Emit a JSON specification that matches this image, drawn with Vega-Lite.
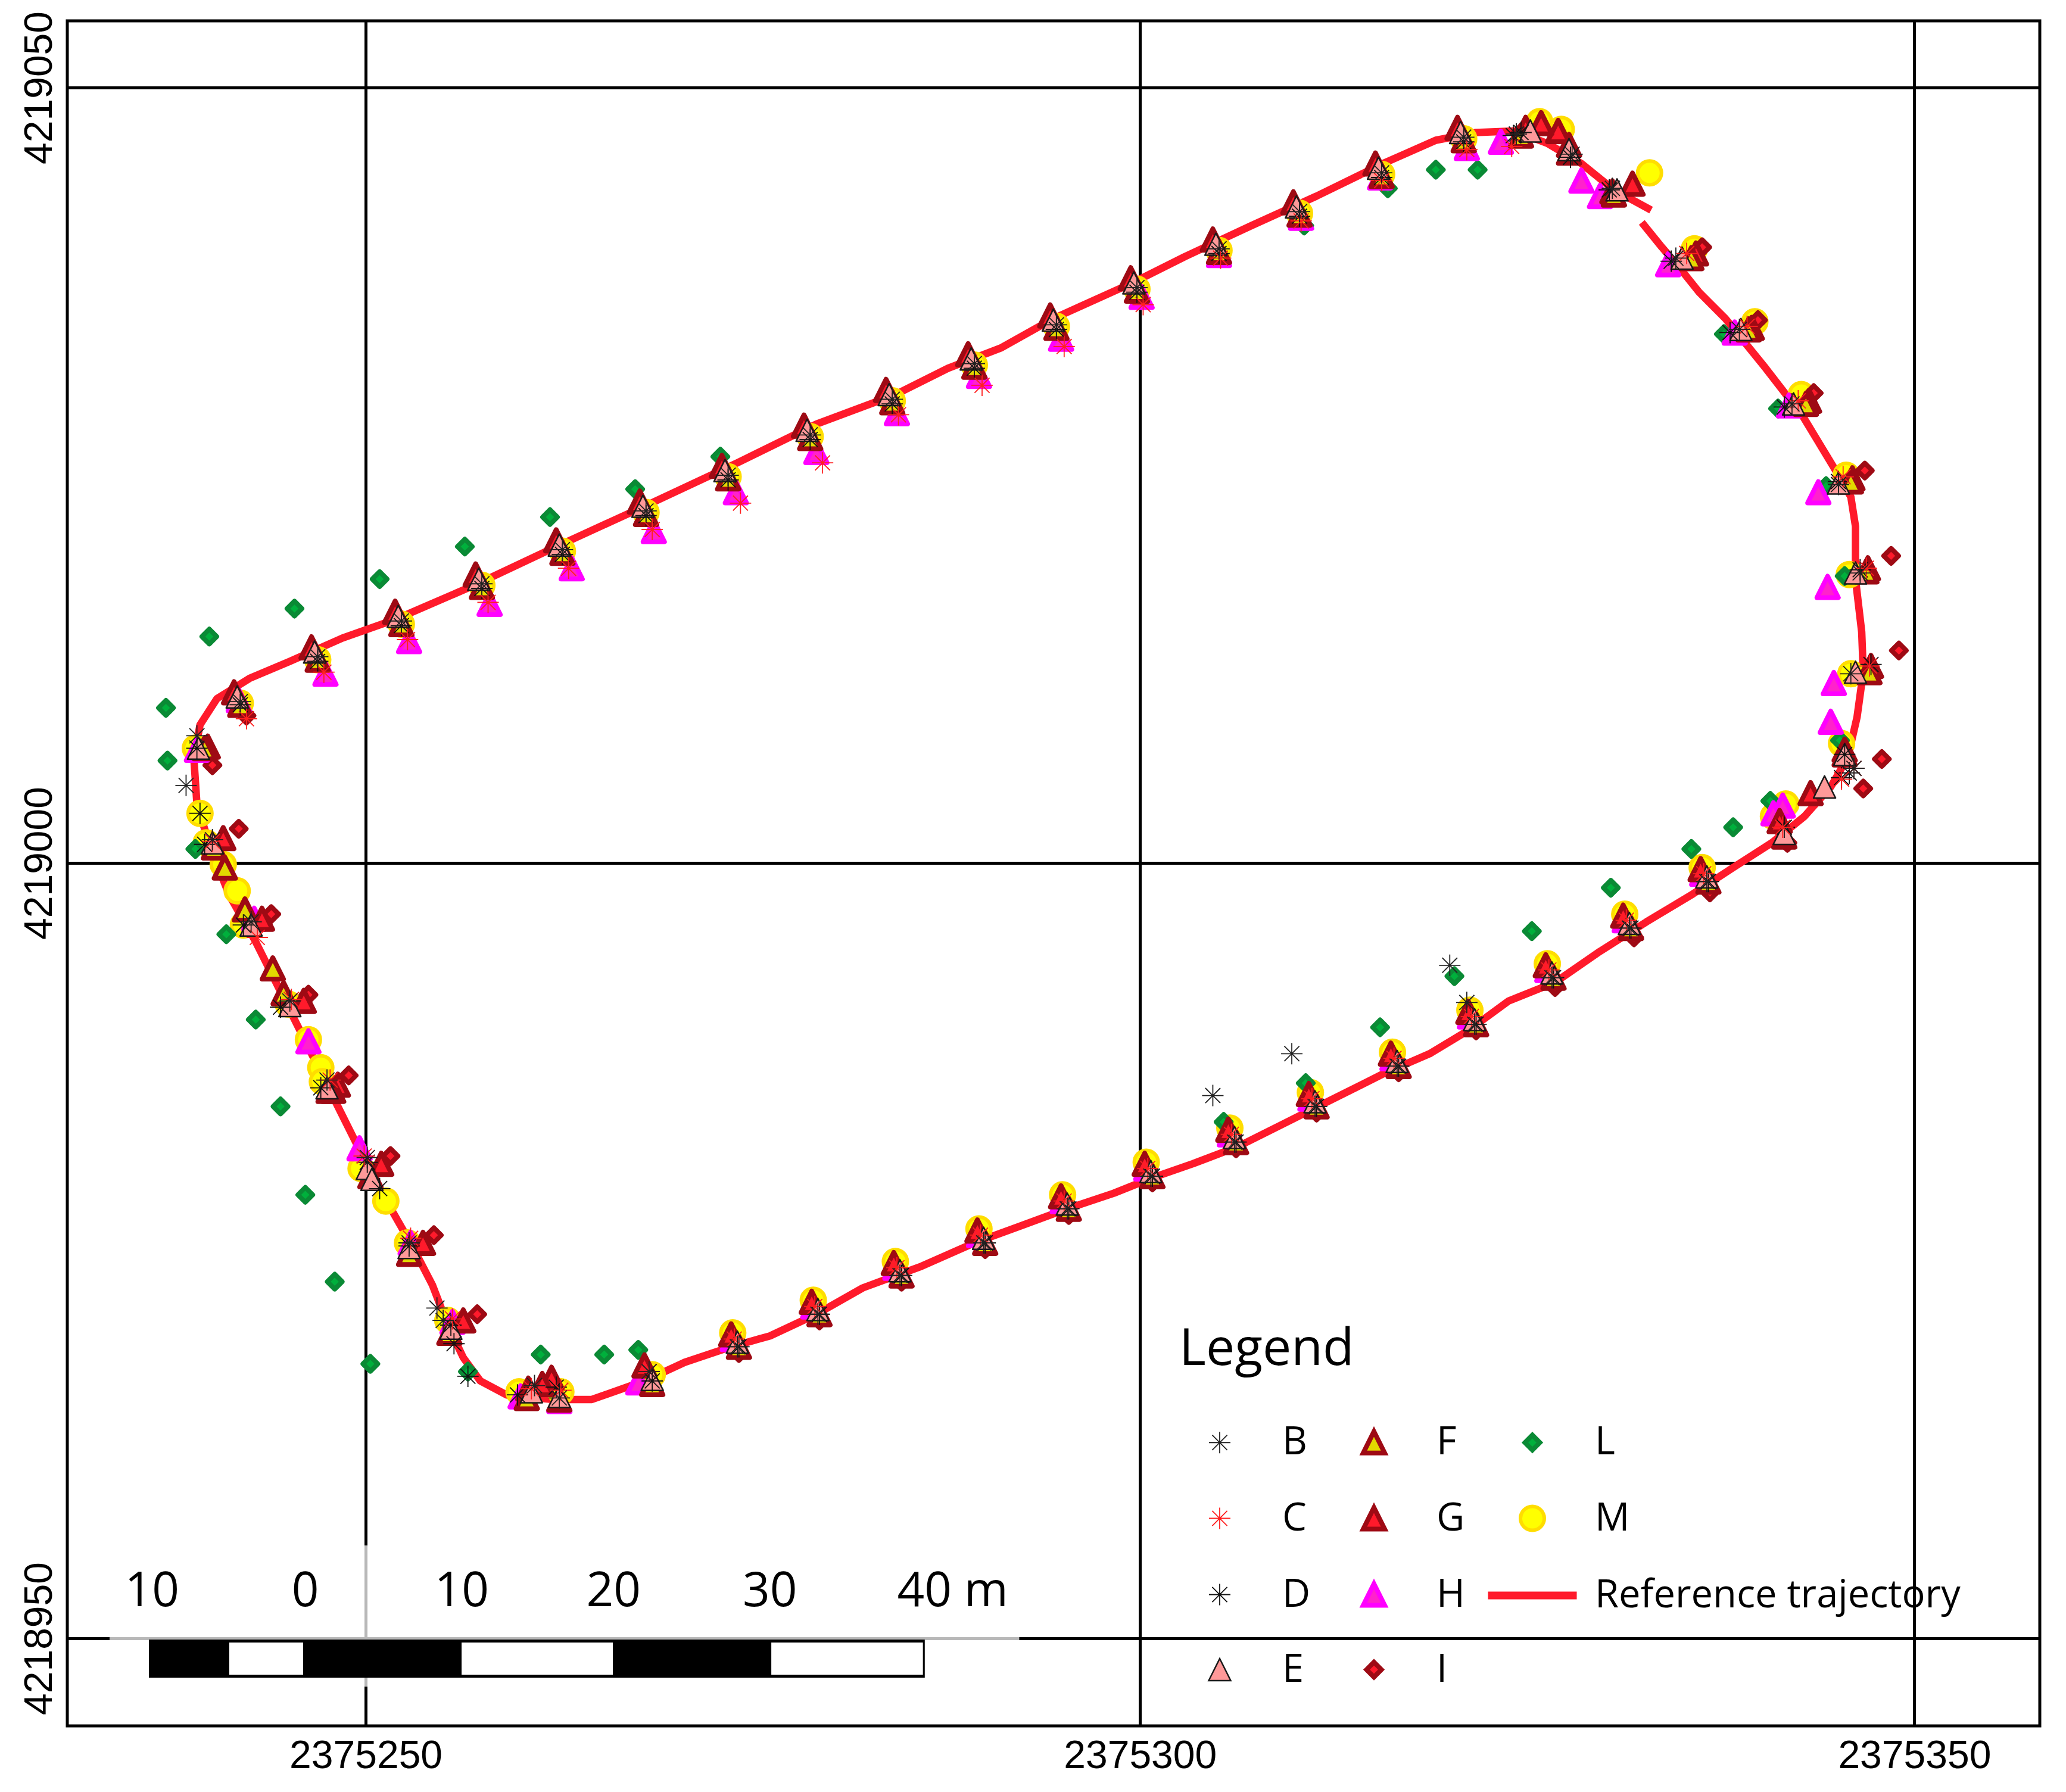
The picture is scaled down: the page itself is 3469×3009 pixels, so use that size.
{
"$schema":"https://vega.github.io/schema/vega-lite/v6.json",
"autosize":{"type":"none"},
"padding":{"left":113,"top":35,"right":44,"bottom":111},
"width":3312,"height":2863,"background":"white",
"config":{"view":{"stroke":"black","strokeWidth":5},
"legend":{"padding":0,"gridAlign":"each","columnPadding":12,"rowPadding":59,"symbolOffset":34,"labelOffset":71,"labelFont":"Open Sans","labelFontSize":65,"labelColor":"black","labelLimit":1000,"titleFont":"Open Sans","titleFontSize":86,"titleFontWeight":"normal","titleColor":"black","titlePadding":79,"titleLimit":1000,"symbolOpacity":1,"symbolLimit":20}},
"encoding":{
"x":{"field":"x","type":"quantitative","title":null,"scale":{"domain":[2375230.73,2375358.1],"zero":false,"nice":false},"axis":{"values":[2375250,2375300,2375350],"format":"d","ticks":false,"domain":false,"gridColor":"black","gridWidth":5,"gridOpacity":1,"labelFont":"Liberation Sans","labelFontSize":66,"labelColor":"black","labelPadding":18,"labelOverlap":false,"labelLimit":1000}},
"y":{"field":"y","type":"quantitative","title":null,"scale":{"domain":[4218944.355,4219054.3],"zero":false,"nice":false},"axis":{"values":[4218950,4219000,4219050],"format":"d","ticks":false,"domain":false,"gridColor":"black","gridWidth":5,"gridOpacity":1,"labelFont":"Liberation Sans","labelFontSize":66,"labelColor":"black","labelAngle":-90,"labelAlign":"center","labelBaseline":"bottom","labelPadding":13,"labelOverlap":false,"labelLimit":1000}}
},
"layer":[
{"data":{"values":[
{"i":1,"x":2375332.4,"y":4219041.3},{"i":2,"x":2375333.7,"y":4219039.7},{"i":3,"x":2375334.9,"y":4219038.3},{"i":4,"x":2375336.1,"y":4219036.8},{"i":5,"x":2375337.8,"y":4219035.1},{"i":6,"x":2375340.4,"y":4219031.9},{"i":7,"x":2375342.8,"y":4219028.8},{"i":8,"x":2375344.8,"y":4219025.5},{"i":9,"x":2375345.9,"y":4219023.6},{"i":10,"x":2375346.2,"y":4219021.7},{"i":11,"x":2375346.2,"y":4219018.3},{"i":12,"x":2375346.6,"y":4219014.9},{"i":13,"x":2375346.7,"y":4219012.3},{"i":14,"x":2375346.3,"y":4219009.4},{"i":15,"x":2375345.7,"y":4219006.8},{"i":16,"x":2375344.6,"y":4219004.9},{"i":17,"x":2375342.9,"y":4219003.0},{"i":18,"x":2375340.8,"y":4219001.3},{"i":19,"x":2375338.3,"y":4218999.7},{"i":20,"x":2375335.7,"y":4218998.0},{"i":21,"x":2375332.7,"y":4218996.2},{"i":22,"x":2375329.7,"y":4218994.3},{"i":23,"x":2375326.8,"y":4218992.3},{"i":24,"x":2375323.8,"y":4218991.1},{"i":25,"x":2375321.2,"y":4218989.2},{"i":26,"x":2375318.7,"y":4218987.7},{"i":27,"x":2375315.7,"y":4218986.4},{"i":28,"x":2375312.3,"y":4218984.7},{"i":29,"x":2375309.3,"y":4218983.2},{"i":30,"x":2375306.3,"y":4218981.7},{"i":31,"x":2375303.4,"y":4218980.6},{"i":32,"x":2375300.8,"y":4218979.7},{"i":33,"x":2375298.3,"y":4218978.7},{"i":34,"x":2375295.3,"y":4218977.7},{"i":35,"x":2375292.3,"y":4218976.6},{"i":36,"x":2375289.3,"y":4218975.5},{"i":37,"x":2375285.9,"y":4218974.0},{"i":38,"x":2375282.1,"y":4218972.6},{"i":39,"x":2375279.1,"y":4218970.9},{"i":40,"x":2375276.1,"y":4218969.5},{"i":41,"x":2375273.6,"y":4218968.8},{"i":42,"x":2375270.6,"y":4218967.8},{"i":43,"x":2375268.0,"y":4218966.6},{"i":44,"x":2375264.6,"y":4218965.4},{"i":45,"x":2375262.1,"y":4218965.4},{"i":46,"x":2375259.1,"y":4218965.7},{"i":47,"x":2375257.4,"y":4218966.6},{"i":48,"x":2375256.3,"y":4218968.1},{"i":49,"x":2375255.3,"y":4218970.2},{"i":50,"x":2375254.3,"y":4218972.8},{"i":51,"x":2375253.0,"y":4218975.3},{"i":52,"x":2375251.4,"y":4218978.1},{"i":53,"x":2375249.7,"y":4218981.3},{"i":54,"x":2375248.0,"y":4218984.7},{"i":55,"x":2375246.3,"y":4218988.1},{"i":56,"x":2375244.6,"y":4218991.5},{"i":57,"x":2375242.9,"y":4218994.9},{"i":58,"x":2375241.2,"y":4218997.9},{"i":59,"x":2375240.0,"y":4219000.9},{"i":60,"x":2375239.1,"y":4219003.8},{"i":61,"x":2375238.9,"y":4219006.8},{"i":62,"x":2375239.3,"y":4219008.9},{"i":63,"x":2375240.4,"y":4219010.6},{"i":64,"x":2375242.5,"y":4219011.9},{"i":65,"x":2375245.1,"y":4219013.0},{"i":66,"x":2375248.5,"y":4219014.5},{"i":67,"x":2375251.9,"y":4219015.7},{"i":68,"x":2375257.0,"y":4219017.9},{"i":69,"x":2375262.1,"y":4219020.3},{"i":70,"x":2375268.0,"y":4219023.0},{"i":71,"x":2375274.0,"y":4219025.8},{"i":72,"x":2375279.1,"y":4219028.3},{"i":73,"x":2375284.2,"y":4219030.2},{"i":74,"x":2375287.6,"y":4219031.9},{"i":75,"x":2375291.0,"y":4219033.2},{"i":76,"x":2375294.4,"y":4219035.1},{"i":77,"x":2375299.5,"y":4219037.4},{"i":78,"x":2375302.9,"y":4219039.1},{"i":79,"x":2375307.2,"y":4219041.1},{"i":80,"x":2375311.4,"y":4219043.0},{"i":81,"x":2375315.7,"y":4219045.1},{"i":82,"x":2375319.1,"y":4219046.6},{"i":83,"x":2375321.7,"y":4219047.1},{"i":84,"x":2375324.2,"y":4219047.2},{"i":85,"x":2375326.3,"y":4219046.4},{"i":86,"x":2375328.5,"y":4219045.1},{"i":87,"x":2375330.6,"y":4219043.4},{"i":88,"x":2375333.0,"y":4219042.1}
]},
"mark":{"type":"line","color":"#ff1a2b","strokeWidth":12.5,"strokeJoin":"round","strokeCap":"butt"},
"encoding":{"order":{"field":"i","type":"quantitative"}}},
{"data":{"values":[
{"s":"M","x":2375241.9,"y":4219010.3},{"s":"M","x":2375246.9,"y":4219013.1},{"s":"M","x":2375252.3,"y":4219015.4},{"s":"M","x":2375257.5,"y":4219017.9},{"s":"M","x":2375262.7,"y":4219020.1},{"s":"M","x":2375268.1,"y":4219022.6},{"s":"M","x":2375273.4,"y":4219024.9},{"s":"M","x":2375278.7,"y":4219027.5},{"s":"M","x":2375284.0,"y":4219029.8},{"s":"M","x":2375289.3,"y":4219032.1},{"s":"M","x":2375294.6,"y":4219034.6},{"s":"M","x":2375299.8,"y":4219037.0},{"s":"M","x":2375305.1,"y":4219039.5},{"s":"M","x":2375310.3,"y":4219041.9},{"s":"M","x":2375315.6,"y":4219044.4},{"s":"M","x":2375320.9,"y":4219046.7},
{"s":"M","x":2375336.3,"y":4218999.7},{"s":"M","x":2375331.3,"y":4218996.7},{"s":"M","x":2375326.3,"y":4218993.5},{"s":"M","x":2375321.3,"y":4218990.5},{"s":"M","x":2375316.3,"y":4218987.8},{"s":"M","x":2375311.0,"y":4218985.2},{"s":"M","x":2375305.8,"y":4218982.9},{"s":"M","x":2375300.4,"y":4218980.7},{"s":"M","x":2375295.0,"y":4218978.6},{"s":"M","x":2375289.6,"y":4218976.4},{"s":"M","x":2375284.2,"y":4218974.3},{"s":"M","x":2375278.9,"y":4218971.8},{"s":"M","x":2375273.7,"y":4218969.7},{"s":"M","x":2375268.5,"y":4218967.0},
{"s":"M","x":2375341.7,"y":4219003.8},{"s":"M","x":2375340.9,"y":4219003.0},{"s":"M","x":2375345.3,"y":4219007.7},{"s":"M","x":2375345.9,"y":4219012.2},{"s":"M","x":2375345.8,"y":4219018.6},{"s":"M","x":2375345.6,"y":4219025.0},{"s":"M","x":2375342.7,"y":4219030.2},{"s":"M","x":2375339.7,"y":4219034.9},{"s":"M","x":2375335.8,"y":4219039.6},{"s":"M","x":2375332.9,"y":4219044.5},{"s":"M","x":2375327.2,"y":4219047.3},{"s":"M","x":2375325.8,"y":4219047.8},
{"s":"M","x":2375239.0,"y":4219007.4},{"s":"M","x":2375239.3,"y":4219003.2},{"s":"M","x":2375239.7,"y":4219001.3},{"s":"M","x":2375240.8,"y":4218999.9},{"s":"M","x":2375241.7,"y":4218998.2},{"s":"M","x":2375242.1,"y":4218996.0},{"s":"M","x":2375245.0,"y":4218990.9},{"s":"M","x":2375246.3,"y":4218988.6},{"s":"M","x":2375247.1,"y":4218986.8},{"s":"M","x":2375247.2,"y":4218985.9},{"s":"M","x":2375249.7,"y":4218980.3},{"s":"M","x":2375251.3,"y":4218978.2},{"s":"M","x":2375252.7,"y":4218975.5},{"s":"M","x":2375255.3,"y":4218970.5},{"s":"M","x":2375259.9,"y":4218965.9},{"s":"M","x":2375262.6,"y":4218965.9},
{"s":"L","x":2375272.9,"y":4219026.2},{"s":"L","x":2375267.4,"y":4219024.1},{"s":"L","x":2375261.9,"y":4219022.3},{"s":"L","x":2375256.4,"y":4219020.4},{"s":"L","x":2375250.9,"y":4219018.3},{"s":"L","x":2375245.4,"y":4219016.4},{"s":"L","x":2375239.9,"y":4219014.6},{"s":"L","x":2375237.1,"y":4219010.0},{"s":"L","x":2375237.2,"y":4219006.6},{"s":"L","x":2375316.0,"y":4219043.5},{"s":"L","x":2375319.1,"y":4219044.7},{"s":"L","x":2375321.8,"y":4219044.7},{"s":"L","x":2375310.6,"y":4219041.1},
{"s":"L","x":2375337.7,"y":4219034.1},{"s":"L","x":2375341.2,"y":4219029.3},{"s":"L","x":2375344.3,"y":4219024.3},{"s":"L","x":2375345.5,"y":4219018.5},{"s":"L","x":2375345.2,"y":4219007.9},{"s":"L","x":2375340.7,"y":4219004.0},{"s":"L","x":2375338.3,"y":4219002.3},{"s":"L","x":2375335.6,"y":4219000.9},{"s":"L","x":2375330.4,"y":4218998.4},{"s":"L","x":2375325.3,"y":4218995.6},{"s":"L","x":2375320.3,"y":4218992.7},{"s":"L","x":2375315.5,"y":4218989.4},{"s":"L","x":2375310.7,"y":4218985.8},{"s":"L","x":2375305.4,"y":4218983.3},
{"s":"L","x":2375239.0,"y":4219000.9},{"s":"L","x":2375241.0,"y":4218995.4},{"s":"L","x":2375242.9,"y":4218989.9},{"s":"L","x":2375244.5,"y":4218984.3},{"s":"L","x":2375246.1,"y":4218978.6},{"s":"L","x":2375248.0,"y":4218973.0},{"s":"L","x":2375250.3,"y":4218967.7},{"s":"L","x":2375256.6,"y":4218967.2},{"s":"L","x":2375261.3,"y":4218968.3},{"s":"L","x":2375265.4,"y":4218968.3},{"s":"L","x":2375267.6,"y":4218968.6},
{"s":"I","x":2375242.3,"y":4219009.5},{"s":"I","x":2375336.8,"y":4218998.1},{"s":"I","x":2375331.9,"y":4218995.2},{"s":"I","x":2375326.8,"y":4218992.0},{"s":"I","x":2375321.7,"y":4218989.2},{"s":"I","x":2375316.7,"y":4218986.5},{"s":"I","x":2375311.4,"y":4218983.9},{"s":"I","x":2375306.2,"y":4218981.6},{"s":"I","x":2375300.8,"y":4218979.4},{"s":"I","x":2375295.4,"y":4218977.3},{"s":"I","x":2375290.0,"y":4218975.1},{"s":"I","x":2375284.6,"y":4218973.0},{"s":"I","x":2375279.3,"y":4218970.5},{"s":"I","x":2375274.1,"y":4218968.4},{"s":"I","x":2375268.5,"y":4218966.2},
{"s":"I","x":2375341.8,"y":4219001.3},{"s":"I","x":2375346.7,"y":4219004.8},{"s":"I","x":2375347.9,"y":4219006.7},{"s":"I","x":2375349.0,"y":4219013.7},{"s":"I","x":2375348.5,"y":4219019.8},{"s":"I","x":2375346.8,"y":4219025.3},{"s":"I","x":2375343.5,"y":4219030.3},{"s":"I","x":2375339.9,"y":4219035.0},{"s":"I","x":2375336.3,"y":4219039.7},{"s":"I","x":2375324.5,"y":4219047.0},{"s":"I","x":2375240.1,"y":4219006.3},{"s":"I","x":2375241.8,"y":4219002.2},{"s":"I","x":2375243.9,"y":4218996.7},{"s":"I","x":2375246.3,"y":4218991.5},{"s":"I","x":2375248.9,"y":4218986.3},{"s":"I","x":2375251.6,"y":4218981.1},{"s":"I","x":2375254.4,"y":4218976.0},{"s":"I","x":2375257.2,"y":4218970.9},
{"s":"H","x":2375241.8,"y":4219010.5},{"s":"H","x":2375247.4,"y":4219012.2},{"s":"H","x":2375252.8,"y":4219014.3},{"s":"H","x":2375258.0,"y":4219016.7},{"s":"H","x":2375263.3,"y":4219019.0},{"s":"H","x":2375268.6,"y":4219021.4},{"s":"H","x":2375273.9,"y":4219023.9},{"s":"H","x":2375279.1,"y":4219026.5},{"s":"H","x":2375284.3,"y":4219029.0},{"s":"H","x":2375289.6,"y":4219031.4},{"s":"H","x":2375294.9,"y":4219033.8},{"s":"H","x":2375300.1,"y":4219036.5},{"s":"H","x":2375305.1,"y":4219039.2},{"s":"H","x":2375310.4,"y":4219041.6},{"s":"H","x":2375315.5,"y":4219044.2},{"s":"H","x":2375321.1,"y":4219046.1},
{"s":"H","x":2375336.3,"y":4218999.3},{"s":"H","x":2375331.3,"y":4218996.3},{"s":"H","x":2375326.3,"y":4218993.1},{"s":"H","x":2375321.3,"y":4218990.1},{"s":"H","x":2375316.3,"y":4218987.4},{"s":"H","x":2375311.0,"y":4218984.8},{"s":"H","x":2375305.8,"y":4218982.5},{"s":"H","x":2375300.4,"y":4218980.3},{"s":"H","x":2375295.0,"y":4218978.2},{"s":"H","x":2375289.6,"y":4218976.0},{"s":"H","x":2375284.2,"y":4218973.9},{"s":"H","x":2375278.9,"y":4218971.4},{"s":"H","x":2375273.7,"y":4218969.3},{"s":"H","x":2375267.6,"y":4218966.5},
{"s":"H","x":2375341.5,"y":4219003.7},{"s":"H","x":2375340.9,"y":4219003.2},{"s":"H","x":2375344.6,"y":4219009.1},{"s":"H","x":2375344.8,"y":4219011.6},{"s":"H","x":2375344.4,"y":4219017.8},{"s":"H","x":2375343.8,"y":4219023.9},{"s":"H","x":2375341.9,"y":4219029.5},{"s":"H","x":2375338.4,"y":4219034.2},{"s":"H","x":2375334.1,"y":4219038.6},{"s":"H","x":2375329.7,"y":4219043.0},{"s":"H","x":2375328.5,"y":4219044.0},{"s":"H","x":2375323.3,"y":4219046.5},{"s":"H","x":2375239.1,"y":4219007.3},{"s":"H","x":2375242.8,"y":4218996.4},{"s":"H","x":2375246.3,"y":4218988.5},{"s":"H","x":2375249.6,"y":4218981.6},{"s":"H","x":2375252.9,"y":4218975.5},{"s":"H","x":2375255.6,"y":4218970.4},{"s":"H","x":2375260.0,"y":4218965.6},{"s":"H","x":2375262.5,"y":4218965.3},
{"s":"G","x":2375241.5,"y":4219011.0},{"s":"G","x":2375246.5,"y":4219013.9},{"s":"G","x":2375251.9,"y":4219016.2},{"s":"G","x":2375257.1,"y":4219018.6},{"s":"G","x":2375262.3,"y":4219020.8},{"s":"G","x":2375267.7,"y":4219023.3},{"s":"G","x":2375273.0,"y":4219025.6},{"s":"G","x":2375278.3,"y":4219028.2},{"s":"G","x":2375283.6,"y":4219030.5},{"s":"G","x":2375288.9,"y":4219032.8},{"s":"G","x":2375294.2,"y":4219035.3},{"s":"G","x":2375299.4,"y":4219037.7},{"s":"G","x":2375304.7,"y":4219040.2},{"s":"G","x":2375309.9,"y":4219042.6},{"s":"G","x":2375315.2,"y":4219045.1},{"s":"G","x":2375320.5,"y":4219047.4},
{"s":"G","x":2375336.2,"y":4218999.6},{"s":"G","x":2375331.2,"y":4218996.6},{"s":"G","x":2375326.2,"y":4218993.4},{"s":"G","x":2375321.2,"y":4218990.4},{"s":"G","x":2375316.2,"y":4218987.7},{"s":"G","x":2375310.9,"y":4218985.1},{"s":"G","x":2375305.7,"y":4218982.8},{"s":"G","x":2375300.3,"y":4218980.6},{"s":"G","x":2375294.9,"y":4218978.5},{"s":"G","x":2375289.5,"y":4218976.3},{"s":"G","x":2375284.1,"y":4218974.2},{"s":"G","x":2375278.8,"y":4218971.7},{"s":"G","x":2375273.6,"y":4218969.6},{"s":"G","x":2375268.0,"y":4218967.6},
{"s":"G","x":2375341.3,"y":4219002.7},{"s":"G","x":2375343.3,"y":4219004.5},{"s":"G","x":2375345.5,"y":4219007.3},{"s":"G","x":2375347.2,"y":4219012.7},{"s":"G","x":2375347.0,"y":4219019.0},{"s":"G","x":2375346.0,"y":4219024.8},{"s":"G","x":2375343.2,"y":4219029.8},{"s":"G","x":2375339.5,"y":4219034.5},{"s":"G","x":2375335.9,"y":4219039.3},{"s":"G","x":2375331.8,"y":4219043.8},{"s":"G","x":2375330.5,"y":4219043.3},{"s":"G","x":2375327.7,"y":4219046.3},{"s":"G","x":2375327.0,"y":4219047.2},{"s":"G","x":2375325.9,"y":4219047.7},{"s":"G","x":2375324.9,"y":4219047.4},
{"s":"G","x":2375239.8,"y":4219007.5},{"s":"G","x":2375240.8,"y":4219001.6},{"s":"G","x":2375243.3,"y":4218996.4},{"s":"G","x":2375246.0,"y":4218991.1},{"s":"G","x":2375248.2,"y":4218985.7},{"s":"G","x":2375247.9,"y":4218985.3},{"s":"G","x":2375251.0,"y":4218980.6},{"s":"G","x":2375253.7,"y":4218975.5},{"s":"G","x":2375256.3,"y":4218970.5},{"s":"G","x":2375260.5,"y":4218966.1},{"s":"G","x":2375262.0,"y":4218966.8},{"s":"G","x":2375261.4,"y":4218966.4},
{"s":"F","x":2375241.9,"y":4219010.2},{"s":"F","x":2375246.9,"y":4219013.1},{"s":"F","x":2375252.3,"y":4219015.4},{"s":"F","x":2375257.5,"y":4219017.8},{"s":"F","x":2375262.7,"y":4219020.0},{"s":"F","x":2375268.1,"y":4219022.5},{"s":"F","x":2375273.4,"y":4219024.8},{"s":"F","x":2375278.7,"y":4219027.4},{"s":"F","x":2375284.0,"y":4219029.7},{"s":"F","x":2375289.3,"y":4219032.0},{"s":"F","x":2375294.6,"y":4219034.5},{"s":"F","x":2375299.8,"y":4219036.9},{"s":"F","x":2375305.1,"y":4219039.4},{"s":"F","x":2375310.3,"y":4219041.8},{"s":"F","x":2375315.6,"y":4219044.3},{"s":"F","x":2375320.9,"y":4219046.6},
{"s":"F","x":2375336.7,"y":4218998.8},{"s":"F","x":2375331.7,"y":4218995.8},{"s":"F","x":2375326.7,"y":4218992.6},{"s":"F","x":2375321.7,"y":4218989.6},{"s":"F","x":2375316.7,"y":4218986.9},{"s":"F","x":2375311.4,"y":4218984.3},{"s":"F","x":2375306.2,"y":4218982.0},{"s":"F","x":2375300.8,"y":4218979.8},{"s":"F","x":2375295.4,"y":4218977.7},{"s":"F","x":2375290.0,"y":4218975.5},{"s":"F","x":2375284.6,"y":4218973.4},{"s":"F","x":2375279.3,"y":4218970.9},{"s":"F","x":2375274.1,"y":4218968.8},{"s":"F","x":2375268.5,"y":4218966.4},
{"s":"F","x":2375341.6,"y":4219001.7},{"s":"F","x":2375345.5,"y":4219007.0},{"s":"F","x":2375347.1,"y":4219012.3},{"s":"F","x":2375346.9,"y":4219018.8},{"s":"F","x":2375345.9,"y":4219024.6},{"s":"F","x":2375343.0,"y":4219029.6},{"s":"F","x":2375339.3,"y":4219034.4},{"s":"F","x":2375335.6,"y":4219039.0},{"s":"F","x":2375330.6,"y":4219043.1},{"s":"F","x":2375327.7,"y":4219045.8},{"s":"F","x":2375324.6,"y":4219046.9},
{"s":"F","x":2375239.6,"y":4219007.4},{"s":"F","x":2375240.2,"y":4219001.0},{"s":"F","x":2375240.9,"y":4218999.7},{"s":"F","x":2375242.2,"y":4218997.0},{"s":"F","x":2375244.0,"y":4218993.2},{"s":"F","x":2375244.7,"y":4218991.6},{"s":"F","x":2375247.6,"y":4218985.3},{"s":"F","x":2375250.3,"y":4218979.8},{"s":"F","x":2375252.8,"y":4218974.8},{"s":"F","x":2375255.4,"y":4218969.7},{"s":"F","x":2375260.4,"y":4218965.5},{"s":"F","x":2375262.5,"y":4218965.4},
{"s":"E","x":2375241.7,"y":4219010.7},{"s":"E","x":2375246.7,"y":4219013.6},{"s":"E","x":2375252.1,"y":4219015.9},{"s":"E","x":2375257.3,"y":4219018.3},{"s":"E","x":2375262.5,"y":4219020.5},{"s":"E","x":2375267.9,"y":4219023.0},{"s":"E","x":2375273.2,"y":4219025.3},{"s":"E","x":2375278.5,"y":4219027.9},{"s":"E","x":2375283.8,"y":4219030.2},{"s":"E","x":2375289.1,"y":4219032.5},{"s":"E","x":2375294.4,"y":4219035.0},{"s":"E","x":2375299.6,"y":4219037.4},{"s":"E","x":2375304.9,"y":4219039.9},{"s":"E","x":2375310.1,"y":4219042.3},{"s":"E","x":2375315.4,"y":4219044.8},{"s":"E","x":2375320.7,"y":4219047.1},
{"s":"E","x":2375336.6,"y":4218999.1},{"s":"E","x":2375331.6,"y":4218996.1},{"s":"E","x":2375326.6,"y":4218992.9},{"s":"E","x":2375321.6,"y":4218989.9},{"s":"E","x":2375316.6,"y":4218987.2},{"s":"E","x":2375311.3,"y":4218984.6},{"s":"E","x":2375306.1,"y":4218982.3},{"s":"E","x":2375300.7,"y":4218980.1},{"s":"E","x":2375295.3,"y":4218978.0},{"s":"E","x":2375289.9,"y":4218975.8},{"s":"E","x":2375284.5,"y":4218973.7},{"s":"E","x":2375279.2,"y":4218971.2},{"s":"E","x":2375274.0,"y":4218969.1},{"s":"E","x":2375268.5,"y":4218966.7},
{"s":"E","x":2375341.6,"y":4219001.9},{"s":"E","x":2375344.2,"y":4219004.9},{"s":"E","x":2375345.5,"y":4219007.0},{"s":"E","x":2375346.2,"y":4219012.3},{"s":"E","x":2375346.2,"y":4219018.7},{"s":"E","x":2375345.1,"y":4219024.5},{"s":"E","x":2375342.2,"y":4219029.6},{"s":"E","x":2375338.8,"y":4219034.4},{"s":"E","x":2375335.0,"y":4219039.0},{"s":"E","x":2375330.8,"y":4219043.4},{"s":"E","x":2375327.7,"y":4219046.0},{"s":"E","x":2375325.2,"y":4219047.2},
{"s":"E","x":2375239.2,"y":4219007.4},{"s":"E","x":2375240.1,"y":4219001.3},{"s":"E","x":2375242.6,"y":4218996.0},{"s":"E","x":2375245.1,"y":4218990.8},{"s":"E","x":2375247.5,"y":4218985.5},{"s":"E","x":2375250.1,"y":4218980.3},{"s":"E","x":2375250.4,"y":4218979.6},{"s":"E","x":2375252.8,"y":4218975.2},{"s":"E","x":2375255.5,"y":4218970.0},{"s":"E","x":2375260.7,"y":4218965.9},{"s":"E","x":2375262.5,"y":4218965.6},
{"s":"D","x":2375241.9,"y":4219010.2},{"s":"D","x":2375246.9,"y":4219013.0},{"s":"D","x":2375252.3,"y":4219015.3},{"s":"D","x":2375257.5,"y":4219017.7},{"s":"D","x":2375262.7,"y":4219019.9},{"s":"D","x":2375268.1,"y":4219022.4},{"s":"D","x":2375273.4,"y":4219024.7},{"s":"D","x":2375278.7,"y":4219027.3},{"s":"D","x":2375284.0,"y":4219029.6},{"s":"D","x":2375289.3,"y":4219031.9},{"s":"D","x":2375294.6,"y":4219034.4},{"s":"D","x":2375299.8,"y":4219036.8},{"s":"D","x":2375305.1,"y":4219039.3},{"s":"D","x":2375310.3,"y":4219041.7},{"s":"D","x":2375315.6,"y":4219044.2},{"s":"D","x":2375320.9,"y":4219046.5},
{"s":"D","x":2375336.7,"y":4218998.8},{"s":"D","x":2375331.7,"y":4218995.8},{"s":"D","x":2375326.7,"y":4218992.6},{"s":"D","x":2375321.7,"y":4218989.6},{"s":"D","x":2375316.7,"y":4218986.9},{"s":"D","x":2375311.4,"y":4218984.3},{"s":"D","x":2375306.2,"y":4218982.0},{"s":"D","x":2375300.8,"y":4218979.8},{"s":"D","x":2375295.4,"y":4218977.7},{"s":"D","x":2375290.0,"y":4218975.5},{"s":"D","x":2375284.6,"y":4218973.4},{"s":"D","x":2375279.3,"y":4218970.9},{"s":"D","x":2375274.1,"y":4218968.8},{"s":"D","x":2375268.5,"y":4218966.6},
{"s":"D","x":2375341.6,"y":4219002.3},{"s":"D","x":2375345.3,"y":4219005.5},{"s":"D","x":2375345.8,"y":4219005.8},{"s":"D","x":2375345.5,"y":4219007.0},{"s":"D","x":2375347.2,"y":4219012.8},{"s":"D","x":2375346.5,"y":4219018.9},{"s":"D","x":2375345.1,"y":4219024.6},{"s":"D","x":2375341.6,"y":4219029.4},{"s":"D","x":2375338.1,"y":4219034.2},{"s":"D","x":2375334.3,"y":4219038.8},{"s":"D","x":2375330.3,"y":4219043.4},{"s":"D","x":2375327.8,"y":4219045.5},{"s":"D","x":2375324.1,"y":4219046.9},{"s":"D","x":2375324.6,"y":4219047.1},
{"s":"D","x":2375239.1,"y":4219007.4},{"s":"D","x":2375239.3,"y":4219003.2},{"s":"D","x":2375239.6,"y":4219001.2},{"s":"D","x":2375242.1,"y":4218996.0},{"s":"D","x":2375244.5,"y":4218990.7},{"s":"D","x":2375247.1,"y":4218985.5},{"s":"D","x":2375250.9,"y":4218979.0},{"s":"D","x":2375250.1,"y":4218980.7},{"s":"D","x":2375252.8,"y":4218975.3},{"s":"D","x":2375255.5,"y":4218970.2},{"s":"D","x":2375255.7,"y":4218969.0},{"s":"D","x":2375256.6,"y":4218966.9},{"s":"D","x":2375259.8,"y":4218965.7},{"s":"D","x":2375262.3,"y":4218966.2},
{"s":"C","x":2375242.3,"y":4219009.3},{"s":"C","x":2375247.3,"y":4219012.3},{"s":"C","x":2375252.7,"y":4219014.4},{"s":"C","x":2375257.9,"y":4219016.8},{"s":"C","x":2375263.1,"y":4219019.0},{"s":"C","x":2375268.5,"y":4219021.5},{"s":"C","x":2375274.2,"y":4219023.2},{"s":"C","x":2375279.5,"y":4219025.8},{"s":"C","x":2375284.4,"y":4219028.9},{"s":"C","x":2375289.8,"y":4219030.8},{"s":"C","x":2375295.1,"y":4219033.3},{"s":"C","x":2375300.2,"y":4219036.0},{"s":"C","x":2375305.2,"y":4219039.0},{"s":"C","x":2375310.4,"y":4219041.4},{"s":"C","x":2375315.6,"y":4219044.0},{"s":"C","x":2375321.1,"y":4219046.0},
{"s":"C","x":2375336.4,"y":4218999.3},{"s":"C","x":2375331.4,"y":4218996.3},{"s":"C","x":2375326.4,"y":4218993.1},{"s":"C","x":2375321.4,"y":4218990.1},{"s":"C","x":2375316.4,"y":4218987.4},{"s":"C","x":2375311.1,"y":4218984.8},{"s":"C","x":2375305.9,"y":4218982.5},{"s":"C","x":2375300.5,"y":4218980.3},{"s":"C","x":2375295.1,"y":4218978.2},{"s":"C","x":2375289.7,"y":4218976.0},{"s":"C","x":2375284.3,"y":4218973.9},{"s":"C","x":2375279.0,"y":4218971.4},{"s":"C","x":2375273.8,"y":4218969.3},{"s":"C","x":2375268.3,"y":4218967.2},
{"s":"C","x":2375341.5,"y":4219002.3},{"s":"C","x":2375345.3,"y":4219005.4},{"s":"C","x":2375346.1,"y":4219006.1},{"s":"C","x":2375347.1,"y":4219012.7},{"s":"C","x":2375346.9,"y":4219019.0},{"s":"C","x":2375345.4,"y":4219024.9},{"s":"C","x":2375342.5,"y":4219029.8},{"s":"C","x":2375339.2,"y":4219034.6},{"s":"C","x":2375335.3,"y":4219039.3},{"s":"C","x":2375324.0,"y":4219046.2},{"s":"C","x":2375243.0,"y":4218995.2},{"s":"C","x":2375240.1,"y":4219001.4},{"s":"C","x":2375245.2,"y":4218991.2},{"s":"C","x":2375247.7,"y":4218986.0},{"s":"C","x":2375249.9,"y":4218981.1},{"s":"C","x":2375252.9,"y":4218975.8},{"s":"C","x":2375255.6,"y":4218970.6},{"s":"C","x":2375260.7,"y":4218966.1},{"s":"C","x":2375262.6,"y":4218966.0},
{"s":"B","x":2375241.9,"y":4219010.4},{"s":"B","x":2375246.9,"y":4219013.3},{"s":"B","x":2375252.3,"y":4219015.6},{"s":"B","x":2375257.5,"y":4219018.0},{"s":"B","x":2375262.7,"y":4219020.2},{"s":"B","x":2375268.1,"y":4219022.7},{"s":"B","x":2375273.4,"y":4219025.0},{"s":"B","x":2375278.7,"y":4219027.6},{"s":"B","x":2375284.0,"y":4219029.9},{"s":"B","x":2375289.3,"y":4219032.2},{"s":"B","x":2375294.6,"y":4219034.7},{"s":"B","x":2375299.8,"y":4219037.1},{"s":"B","x":2375305.1,"y":4219039.6},{"s":"B","x":2375310.3,"y":4219042.0},{"s":"B","x":2375315.6,"y":4219044.5},{"s":"B","x":2375320.9,"y":4219046.8},
{"s":"B","x":2375336.6,"y":4218998.8},{"s":"B","x":2375331.6,"y":4218995.8},{"s":"B","x":2375326.6,"y":4218992.6},{"s":"B","x":2375321.6,"y":4218989.6},{"s":"B","x":2375316.6,"y":4218986.9},{"s":"B","x":2375311.3,"y":4218984.3},{"s":"B","x":2375306.1,"y":4218982.0},{"s":"B","x":2375300.7,"y":4218979.8},{"s":"B","x":2375295.3,"y":4218977.7},{"s":"B","x":2375289.9,"y":4218975.5},{"s":"B","x":2375284.5,"y":4218973.4},{"s":"B","x":2375279.2,"y":4218970.9},{"s":"B","x":2375274.0,"y":4218968.8},{"s":"B","x":2375268.3,"y":4218967.2},
{"s":"B","x":2375320.0,"y":4218993.4},{"s":"B","x":2375321.1,"y":4218991.0},{"s":"B","x":2375309.8,"y":4218987.7},{"s":"B","x":2375304.7,"y":4218985.0},{"s":"B","x":2375238.4,"y":4219005.0},{"s":"B","x":2375239.1,"y":4219008.2},{"s":"B","x":2375346.1,"y":4219006.1},{"s":"B","x":2375345.9,"y":4219012.2},{"s":"B","x":2375327.9,"y":4219045.7},{"s":"B","x":2375324.3,"y":4219047.0},{"s":"B","x":2375330.5,"y":4219043.5},{"s":"B","x":2375334.6,"y":4219039.0},{"s":"B","x":2375338.7,"y":4219034.4},{"s":"B","x":2375342.1,"y":4219029.6},{"s":"B","x":2375345.1,"y":4219024.4},{"s":"B","x":2375346.5,"y":4219018.7},
{"s":"B","x":2375240.1,"y":4219001.5},{"s":"B","x":2375242.6,"y":4218996.2},{"s":"B","x":2375245.1,"y":4218991.1},{"s":"B","x":2375247.5,"y":4218986.0},{"s":"B","x":2375250.1,"y":4218981.0},{"s":"B","x":2375252.8,"y":4218975.5},{"s":"B","x":2375254.6,"y":4218971.3},{"s":"B","x":2375255.0,"y":4218970.5},{"s":"B","x":2375260.9,"y":4218966.3},{"s":"B","x":2375262.5,"y":4218965.5}
]},
"mark":{"type":"point","filled":true,"opacity":1,"strokeJoin":"round"},
"encoding":{
"shape":{"field":"s","type":"nominal","legend":{"title":"Legend","orient":"none","legendX":1867,"legendY":2189,"columns":3},"scale":{"domain":["B","C","D","E","F","G","H","I","L","M","Reference trajectory"],"range":["M0,-1L0,1M-1,0L1,0M-.7,-.7L.7,.7M-.7,.7L.7,-.7","M0,-1L0,1M-1,0L1,0M-.7,-.7L.7,.7M-.7,.7L.7,-.7","M0,-1L0,1M-1,0L1,0M-.7,-.7L.7,.7M-.7,.7L.7,-.7","M0,-1L1,1L-1,1Z","M0,-1L1,1L-1,1Z","M-4.28,0M0,-1L1,1L-1,1Z","M0,-1L1,1L-1,1Z","diamond","diamond","circle","M-2.71,0L2.71,0"]}},
"fill":{"field":"s","type":"nominal","legend":{"title":"Legend","orient":"none","legendX":1867,"legendY":2189,"columns":3},"scale":{"domain":["B","C","D","E","F","G","H","I","L","M","Reference trajectory"],"range":["transparent","transparent","transparent","#ff9999","#e3d800","#ff1a2b","#ff22cc","#ff1a2b","#00b03c","#ffff00","transparent"]}},
"stroke":{"field":"s","type":"nominal","legend":{"title":"Legend","orient":"none","legendX":1867,"legendY":2189,"columns":3},"scale":{"domain":["B","C","D","E","F","G","H","I","L","M","Reference trajectory"],"range":["#222222","#ff2020","#111111","#1a1a1a","#9e0a14","#9e0a14","#ff00ff","#9e0a14","#0a8a35","#ffdd00","#ff1a2b"]}},
"size":{"field":"s","type":"nominal","legend":{"title":"Legend","orient":"none","legendX":1867,"legendY":2189,"columns":3},"scale":{"type":"ordinal","domain":["B","C","D","E","F","G","H","I","L","M","Reference trajectory"],"range":[1296,1296,1296,1369,1296,1296,1296,625,625,1600,3025]}},
"strokeWidth":{"field":"s","type":"nominal","legend":{"title":"Legend","orient":"none","legendX":1867,"legendY":2189,"columns":3},"scale":{"type":"ordinal","domain":["B","C","D","E","F","G","H","I","L","M","Reference trajectory"],"range":[1.8,1.8,1.8,2.5,8,8,8,8,8,6,13]}}
}},
{"data":{"values":[{"x":2375233.46,"x2":2375292.2,"y":4218955.99,"y2":4218946.89}]},
"mark":{"type":"rect","fill":"white","opacity":0.72},
"encoding":{"x2":{"field":"x2"},"y2":{"field":"y2"}}},
{"data":{"values":[{"x":2375236,"x2":2375286.1,"y":4218949.92,"y2":4218947.47}]},
"mark":{"type":"rect","fill":"black"},
"encoding":{"x2":{"field":"x2"},"y2":{"field":"y2"}}},
{"data":{"values":[{"x":2375241.19,"x2":2375245.96,"y":4218949.73,"y2":4218947.66},{"x":2375256.19,"x2":2375265.96,"y":4218949.73,"y2":4218947.66},{"x":2375276.19,"x2":2375285.98,"y":4218949.73,"y2":4218947.66}]},
"mark":{"type":"rect","fill":"white"},
"encoding":{"x2":{"field":"x2"},"y2":{"field":"y2"}}},
{"data":{"values":[{"t":"10","x":2375236.2,"y":4218952.07},{"t":"0","x":2375246.1,"y":4218952.07},{"t":"10","x":2375256.2,"y":4218952.07},{"t":"20","x":2375266.0,"y":4218952.07},{"t":"30","x":2375276.1,"y":4218952.07},{"t":"40 m","x":2375287.9,"y":4218952.07}]},
"mark":{"type":"text","font":"Open Sans","fontSize":80,"align":"center","baseline":"alphabetic","color":"black"},
"encoding":{"text":{"field":"t"}}}
]
}
